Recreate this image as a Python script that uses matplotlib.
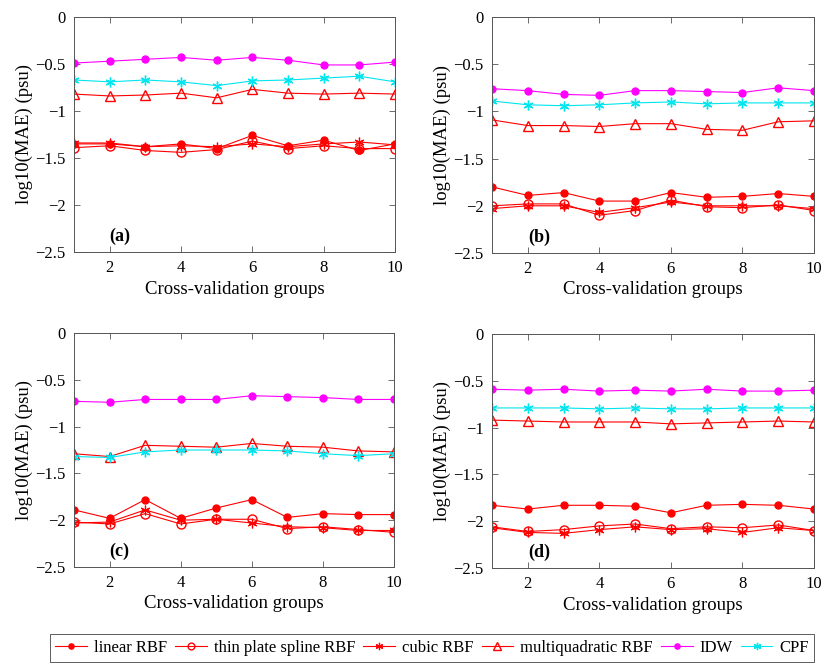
import numpy as np
import matplotlib
matplotlib.use("Agg")
import matplotlib.pyplot as plt

plt.rcParams['font.family'] = ['Liberation Serif', 'DejaVu Serif']
plt.rcParams['mathtext.fontset'] = 'stix'

groups = np.arange(1, 11)
series_names = ['linear RBF', 'thin plate spline RBF', 'cubic RBF',
                'multiquadratic RBF', 'IDW', 'CPF']
panel_tags = ['(a)', '(b)', '(c)', '(d)']

# panel (a)
a_linear = [-1.35, -1.35, -1.38, -1.35, -1.40, -1.26, -1.37, -1.31, -1.42, -1.35]
a_tps = [-1.39, -1.37, -1.42, -1.44, -1.41, -1.32, -1.40, -1.37, -1.40, -1.40]
a_cubic = [-1.34, -1.34, -1.38, -1.37, -1.38, -1.35, -1.38, -1.35, -1.33, -1.36]
a_mq = [-0.82, -0.84, -0.83, -0.81, -0.86, -0.77, -0.81, -0.82, -0.81, -0.82]
a_idw = [-0.49, -0.47, -0.45, -0.43, -0.46, -0.43, -0.46, -0.51, -0.51, -0.48]
a_cpf = [-0.67, -0.69, -0.67, -0.69, -0.73, -0.68, -0.67, -0.65, -0.63, -0.69]

# panel (b)
b_linear = [-1.80, -1.89, -1.86, -1.95, -1.95, -1.86, -1.91, -1.90, -1.87, -1.90]
b_tps = [-2.00, -1.98, -1.98, -2.10, -2.05, -1.94, -2.01, -2.02, -1.99, -2.05]
b_cubic = [-2.03, -2.00, -2.00, -2.07, -2.02, -1.96, -2.00, -2.00, -2.00, -2.03]
b_mq = [-1.09, -1.15, -1.15, -1.16, -1.13, -1.13, -1.19, -1.20, -1.11, -1.10]
b_idw = [-0.76, -0.78, -0.82, -0.83, -0.78, -0.78, -0.79, -0.80, -0.75, -0.78]
b_cpf = [-0.89, -0.93, -0.94, -0.93, -0.91, -0.90, -0.92, -0.91, -0.91, -0.91]

# panel (c)
c_linear = [-1.89, -1.98, -1.78, -1.98, -1.87, -1.78, -1.97, -1.93, -1.94, -1.94]
c_tps = [-2.02, -2.04, -1.93, -2.04, -1.99, -1.99, -2.09, -2.07, -2.10, -2.13]
c_cubic = [-2.03, -2.02, -1.89, -2.00, -1.99, -2.03, -2.07, -2.08, -2.11, -2.11]
c_mq = [-1.29, -1.32, -1.20, -1.21, -1.22, -1.18, -1.21, -1.22, -1.26, -1.27]
c_idw = [-0.73, -0.74, -0.71, -0.71, -0.71, -0.67, -0.68, -0.69, -0.71, -0.71]
c_cpf = [-1.32, -1.33, -1.27, -1.25, -1.25, -1.25, -1.26, -1.29, -1.31, -1.29]

# panel (d)
d_linear = [-1.83, -1.87, -1.83, -1.83, -1.84, -1.91, -1.83, -1.82, -1.83, -1.87]
d_tps = [-2.06, -2.11, -2.09, -2.05, -2.03, -2.08, -2.06, -2.07, -2.04, -2.10]
d_cubic = [-2.07, -2.12, -2.13, -2.09, -2.06, -2.09, -2.08, -2.12, -2.07, -2.10]
d_mq = [-0.92, -0.93, -0.94, -0.94, -0.94, -0.96, -0.95, -0.94, -0.93, -0.94]
d_idw = [-0.59, -0.60, -0.59, -0.61, -0.60, -0.61, -0.59, -0.61, -0.61, -0.60]
d_cpf = [-0.79, -0.79, -0.79, -0.80, -0.79, -0.80, -0.80, -0.79, -0.79, -0.79]

panels = [
    [a_linear, a_tps, a_cubic, a_mq, a_idw, a_cpf],
    [b_linear, b_tps, b_cubic, b_mq, b_idw, b_cpf],
    [c_linear, c_tps, c_cubic, c_mq, c_idw, c_cpf],
    [d_linear, d_tps, d_cubic, d_mq, d_idw, d_cpf],
]

styles = [
    dict(color='#ff0000', marker='o', mfc='#ff0000', ms=5),
    dict(color='#ff0000', marker='o', mfc='none', ms=6.5, mew=1.0),
    dict(color='#ff0000', marker=(6, 2, 0), ms=7, mew=0.9),
    dict(color='#ff0000', marker='^', mfc='none', ms=7, mew=1.0),
    dict(color='#ff00ff', marker='o', mfc='#ff00ff', ms=5),
    dict(color='#00e5ee', marker=(6, 2, 0), ms=7, mew=1.0),
]

W, H = 824, 666
fig = plt.figure(figsize=(W / 100, H / 100), dpi=100)

# axes boxes in pixels: left, top, right, bottom
boxes = [(74, 17, 395, 252), (492, 17, 814, 253),
         (74, 333, 394, 567), (492, 334, 814, 568)]

handles = []
for k, (box, data) in enumerate(zip(boxes, panels)):
    l, t, r, b = box
    ax = fig.add_axes([l / W, 1 - b / H, (r - l) / W, (b - t) / H])
    for vals, st, name in zip(data, styles, series_names):
        ln, = ax.plot(groups, vals, lw=0.8, label=name, **st)
        if k == 0:
            handles.append(ln)
    ax.set_xlim(1, 10)
    ax.set_ylim(-2.5, 0)
    ax.set_xticks([2, 4, 6, 8, 10])
    ax.set_yticks([-2.5, -2, -1.5, -1, -0.5, 0])
    ax.set_yticklabels(['\u22122.5', '\u22122', '\u22121.5', '\u22121', '\u22120.5', '0'])
    ax.tick_params(direction='in', top=True, right=True, labelsize=12,
                   length=4, width=0.6, color='#555555', pad=6)
    for sp in ax.spines.values():
        sp.set_color('#555555')
        sp.set_linewidth(0.7)
    ax.set_xlabel('Cross-validation groups', fontsize=13.5, labelpad=3)
    ax.set_ylabel('log10(MAE) (psu)', fontsize=13.5, labelpad=2)
    ax.text(2.0, -2.33, panel_tags[k], fontsize=13, fontweight='bold',
            va='center', ha='left')

leg = fig.legend(handles=handles, labels=series_names, ncol=6,
                 loc='center', bbox_to_anchor=(432 / W, 1 - 648 / H),
                 fontsize=12, frameon=True, fancybox=False, markerscale=0.75,
                 handlelength=1.9, handletextpad=0.4, columnspacing=0.5,
                 borderpad=0.35, borderaxespad=0.2, edgecolor='#333333')
leg.get_frame().set_linewidth(0.7)

fig.savefig('out.png', dpi=100)
